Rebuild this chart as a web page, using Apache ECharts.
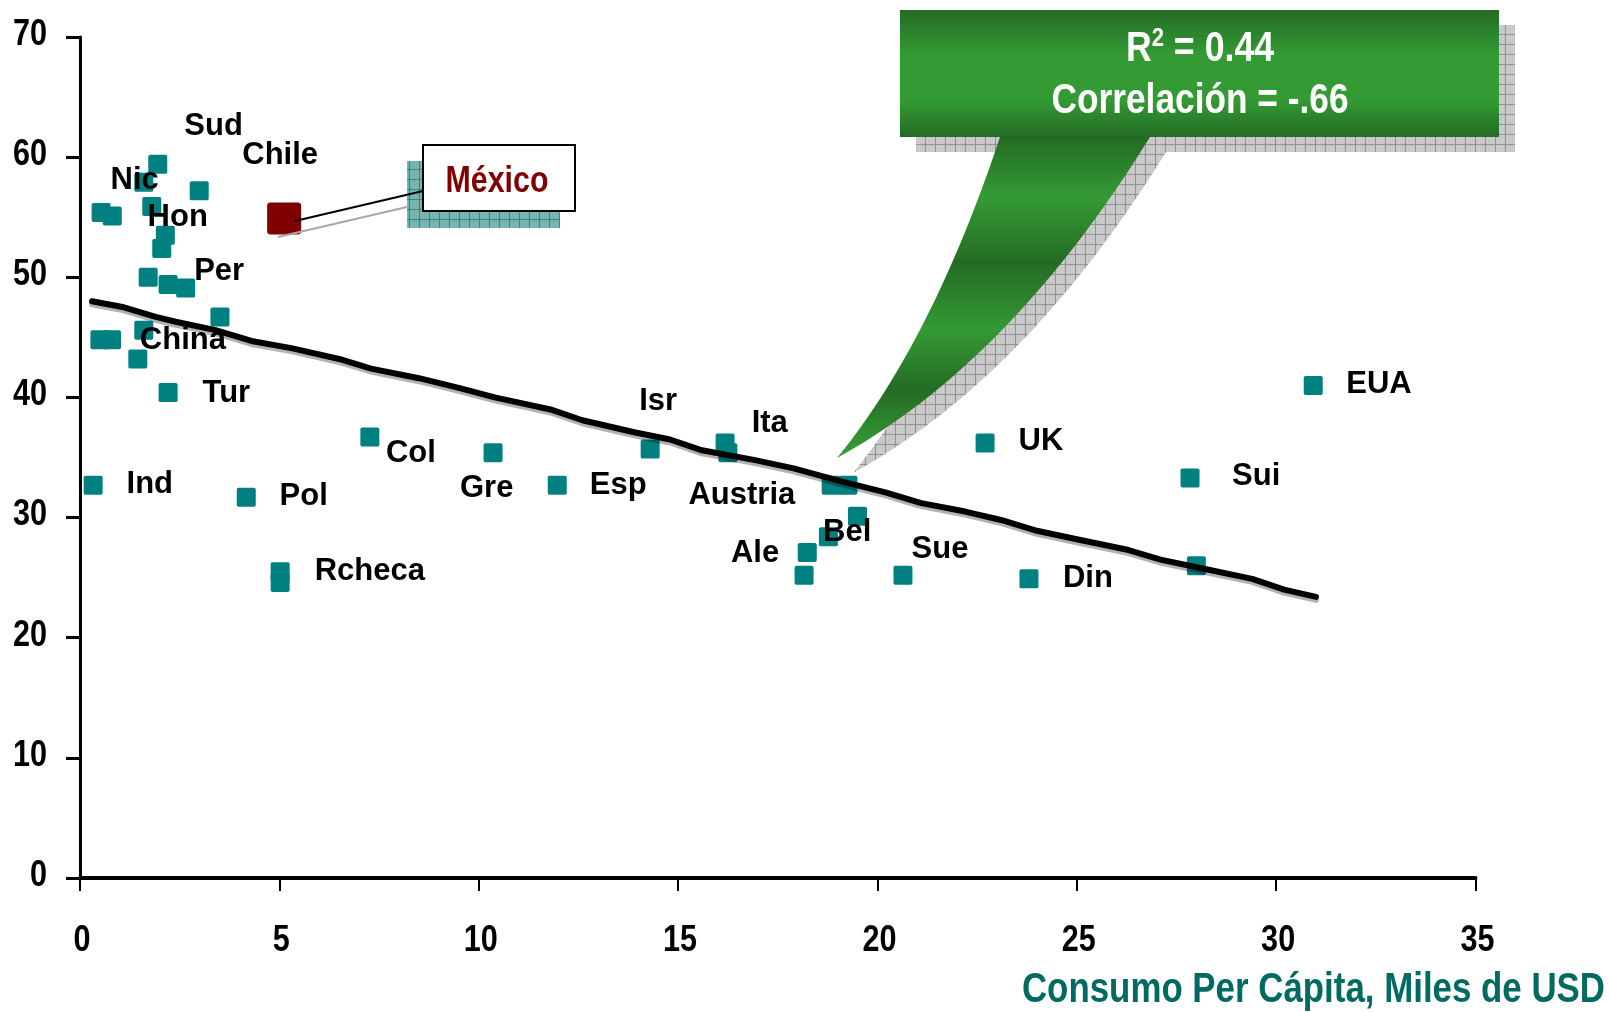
<!DOCTYPE html>
<html>
<head>
<meta charset="utf-8">
<script src="https://cdn.jsdelivr.net/npm/echarts@6/dist/echarts.min.js"></script>
<style>
html,body{margin:0;padding:0;background:#fff;}
#chart{width:1610px;height:1012px;}
</style>
</head>
<body>
<div id="chart"></div>
<script>
// ---- data ----
const pointX = [0.33,0.53,0.81,0.50,0.79,1.60,1.95,1.80,2.14,2.05,1.71,2.21,2.65,2.99,3.51,1.60,1.45,2.21,4.17,5.02,5.02,7.27,10.36,11.97,14.30,16.18,16.25,18.84,19.26,19.50,18.77,18.24,18.16,20.64,23.80,22.70,27.84,28.00,30.93];
const pointY = [32.7,55.4,55.1,44.8,44.8,57.9,59.4,55.9,53.5,52.4,50.0,49.4,49.1,57.2,46.7,45.6,43.2,40.4,31.7,25.5,24.6,36.7,35.4,32.7,35.7,36.2,35.4,32.7,32.7,30.1,28.4,27.1,25.2,25.2,24.9,36.2,33.3,26.0,41.0];
const mexicoX = [5.12];
const mexicoY = [54.9];
const trendX = [0.3,1.1,1.9,2.4,3.4,4.3,5.3,6.5,7.3,8.5,9.5,10.4,11.8,12.6,13.9,14.8,15.6,16.9,17.9,19.0,20.2,21.1,22.2,23.1,24.0,25.0,26.3,27.1,28.1,29.4,30.2,31.0];
const trendY = [48.0,47.5,46.7,46.3,45.6,44.7,44.1,43.2,42.4,41.6,40.8,40.0,39.0,38.1,37.1,36.5,35.6,34.8,34.1,33.1,32.1,31.2,30.5,29.8,28.9,28.2,27.3,26.5,25.8,24.9,24.0,23.4];
const labelNames = ['Sud','Chile','Nic','Hon','Per','China','Tur','Ind','Pol','Col','Gre','Esp','Rcheca','Isr','Ita','Austria','Bel','Ale','Sue','Din','UK','Sui','EUA'];
const labelX = [3.35,5.02,1.37,2.45,3.49,2.58,3.67,1.75,5.61,8.30,10.20,13.50,7.27,14.50,17.30,16.60,19.24,16.93,21.57,25.28,24.10,29.50,32.58];
const labelY = [62.8,60.4,58.3,55.2,50.7,45.0,40.6,33.0,32.0,35.6,32.7,32.9,25.8,39.9,38.1,32.1,29.0,27.3,27.6,25.2,36.55,33.7,41.3];
const xTickValues = [0,5,10,15,20,25,30,35];
const xTickLabels = ['0','5','10','15','20','25','30','35'];
const yTickValues = [0,10,20,30,40,50,60,70];
const yTickLabels = ['0','10','20','30','40','50','60','70'];
const xAxisTitle = 'Consumo Per Cápita, Miles de USD';
const statLine1 = ['R', '2', ' = 0.44'];
const statLine2 = 'Correlación = -.66';
const mexicoName = 'México';

// ---- helpers ----
function zip(xs, ys) { return xs.map((x, i) => [x, ys[i]]); }
function hatch(bg, line, fine) {
  const c = document.createElement('canvas');
  c.width = 10; c.height = 10;
  const g = c.getContext('2d');
  g.fillStyle = bg; g.fillRect(0, 0, 10, 10);
  g.fillStyle = fine;
  for (let i = 0; i < 10; i += 2) for (let j = (i/2)%2; j < 10; j += 2) g.fillRect(i, j, 1, 1);
  g.fillStyle = line;
  g.fillRect(9, 0, 1, 10);
  g.fillRect(0, 9, 10, 1);
  return c;
}
const grayHatch = hatch('#cdcdcd', '#939393', '#bdbdbd');
const tealHatch = hatch('#7fb8b2', '#2f8c84', '#66aaa3');

// quadratic bezier sampled into polygon points (callout outline)
function quad(p0, c, p2, n) {
  const out = [];
  for (let i = 1; i <= n; i++) {
    const t = i / n, u = 1 - t;
    out.push([u*u*p0[0] + 2*u*t*c[0] + t*t*p2[0], u*u*p0[1] + 2*u*t*c[1] + t*t*p2[1]]);
  }
  return out;
}
const calloutPts = [[900,10],[1499,10],[1499,137],[1150,137]]
  .concat(quad([1150,137],[1010.5,362.5],[837,458],24))
  .concat(quad([837,458],[931.5,342.5],[1000,137],24))
  .concat([[900,137]]);

const sans = '"Liberation Sans", Arial, sans-serif';
const squareSym = 'path://M1,0H9Q10,0 10,1V9Q10,10 9,10H1Q0,10 0,9V1Q0,0 1,0Z';

const chart = echarts.init(document.getElementById('chart'));

const dark = '#246b24', light = '#349a34';
const greenGrad = new echarts.graphic.LinearGradient(0, 10, 0, 473, [
  {offset: 0, color: dark},
  {offset: 0.097, color: light},
  {offset: 0.194, color: light},
  {offset: 0.274, color: dark},
  {offset: 0.404, color: light},
  {offset: 0.546, color: dark},
  {offset: 0.691, color: light},
  {offset: 0.821, color: dark},
  {offset: 0.944, color: light},
  {offset: 1, color: light}
], true);

function tickText(text, x, y, align) {
  return {type: 'text', x: x, y: y, scaleX: 0.85, scaleY: 1,
    style: {text: text, align: align, verticalAlign: 'middle', fill: '#000',
      fontFamily: sans, fontWeight: 'bold', fontSize: 36}};
}

const option = {
  animation: false,
  backgroundColor: '#ffffff',
  grid: {left: 80, right: 134.5, top: 37, bottom: 134, containLabel: false},
  xAxis: {
    type: 'value', min: 0, max: 35, interval: 5,
    axisLine: {show: true, onZero: false, lineStyle: {color: '#000', width: 4}},
    axisTick: {show: true, length: 13, lineStyle: {color: '#000', width: 2}},
    splitLine: {show: false},
    axisLabel: {show: false}
  },
  yAxis: {
    type: 'value', min: 0, max: 70, interval: 10,
    axisLine: {show: true, onZero: false, lineStyle: {color: '#000', width: 3}},
    axisTick: {show: true, length: 14, lineStyle: {color: '#000', width: 3}},
    splitLine: {show: false},
    axisLabel: {show: false}
  },
  series: [
    {
      type: 'scatter', name: 'países', z: 2,
      data: zip(pointX, pointY),
      symbol: squareSym, symbolSize: 19,
      itemStyle: {color: '#008080', opacity: 1},
      silent: true
    },
    {
      type: 'scatter', name: 'México', z: 2,
      data: zip(mexicoX, mexicoY),
      symbol: squareSym, symbolSize: [34, 32],
      itemStyle: {color: '#800000', opacity: 1},
      silent: true
    },
    {
      type: 'line', name: 'tendencia', z: 4,
      data: zip(trendX, trendY),
      showSymbol: false, symbol: 'none', smooth: false,
      lineStyle: {color: '#000', width: 6, cap: 'round', join: 'round',
        shadowColor: 'rgba(0,0,0,0.3)', shadowOffsetY: 3, shadowBlur: 0},
      silent: true
    },
    {
      type: 'custom', name: 'etiquetas', z: 5, clip: false, silent: true,
      data: zip(labelX, labelY),
      renderItem: (params, api) => {
        const p = api.coord([api.value(0), api.value(1)]);
        return {type: 'text', x: p[0], y: p[1] + 3,
          style: {text: labelNames[params.dataIndex], align: 'center', verticalAlign: 'middle',
            fill: '#000', fontFamily: sans, fontWeight: 'bold', fontSize: 31}};
      }
    },
    {
      type: 'custom', name: 'xTicks', z: 6, clip: false, silent: true,
      data: xTickValues.map(v => [v, 0]),
      renderItem: (params, api) => {
        const p = api.coord([api.value(0), api.value(1)]);
        return tickText(xTickLabels[params.dataIndex], p[0] + 2, p[1] + 63, 'center');
      }
    },
    {
      type: 'custom', name: 'yTicks', z: 6, clip: false, silent: true,
      data: yTickValues.map(v => [0, v]),
      renderItem: (params, api) => {
        const p = api.coord([api.value(0), api.value(1)]);
        return tickText(yTickLabels[params.dataIndex], p[0] - 33, p[1] - 2, 'right');
      }
    }
  ],
  graphic: [
    // México callout
    {type: 'rect', z: 50, shape: {x: 407, y: 161, width: 153, height: 67},
      style: {fill: {image: tealHatch, repeat: 'repeat'}}},
    {type: 'line', z: 51, shape: {x1: 278, y1: 237, x2: 407, y2: 207},
      style: {stroke: '#a8a8a8', lineWidth: 2}},
    {type: 'line', z: 52, shape: {x1: 295, y1: 221, x2: 423, y2: 191},
      style: {stroke: '#000', lineWidth: 2}},
    {type: 'rect', z: 53, shape: {x: 423, y: 145, width: 152, height: 66},
      style: {fill: '#fff', stroke: '#000', lineWidth: 2}},
    {type: 'text', z: 54, x: 497, y: 182, scaleX: 0.82,
      style: {text: mexicoName, align: 'center', verticalAlign: 'middle',
        fill: '#800000', fontFamily: sans, fontWeight: 'bold', fontSize: 37}},
    // green stats callout
    {type: 'polygon', z: 60, x: 16, y: 15, shape: {points: calloutPts},
      style: {fill: {image: grayHatch, repeat: 'repeat'}}},
    {type: 'polygon', z: 61, shape: {points: calloutPts},
      style: {fill: greenGrad}},
    {type: 'text', z: 62, x: 1200, y: 47, scaleX: 0.85,
      style: {text: '{b|' + statLine1[0] + '}{s|' + statLine1[1] + '}{b|' + statLine1[2] + '}',
        align: 'center', verticalAlign: 'middle',
        rich: {
          b: {fill: '#fff', fontFamily: sans, fontWeight: 'bold', fontSize: 42, lineHeight: 46, verticalAlign: 'bottom'},
          s: {fill: '#fff', fontFamily: sans, fontWeight: 'bold', fontSize: 26, lineHeight: 46, verticalAlign: 'top', padding: [2, 0, 0, 0]}
        }}},
    {type: 'text', z: 62, x: 1200, y: 101, scaleX: 0.84,
      style: {text: statLine2, align: 'center', verticalAlign: 'middle',
        fill: '#fff', fontFamily: sans, fontWeight: 'bold', fontSize: 42}},
    // x axis title
    {type: 'text', z: 62, x: 1605, y: 990, scaleX: 0.83,
      style: {text: xAxisTitle, align: 'right', verticalAlign: 'middle',
        fill: '#006a60', fontFamily: sans, fontWeight: 'bold', fontSize: 42}}
  ]
};
chart.setOption(option);
</script>
</body>
</html>
